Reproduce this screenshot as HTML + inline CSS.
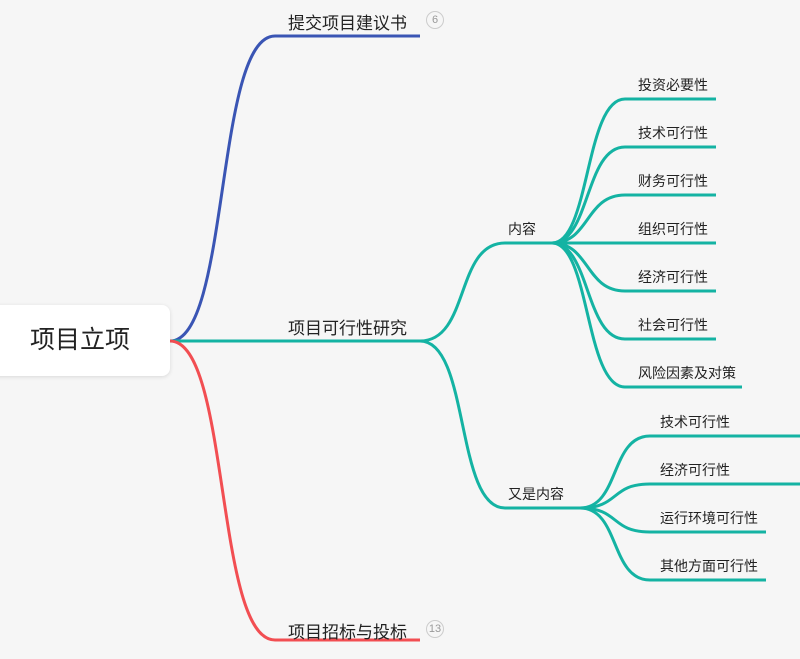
<!DOCTYPE html><html><head><meta charset="utf-8"><style>
body{margin:0;width:800px;height:659px;background:#f6f6f6;overflow:hidden;font-family:"Liberation Sans","Noto Sans CJK SC",sans-serif;position:relative}
.t{position:absolute;color:#222;white-space:nowrap}
.root{position:absolute;left:-10px;top:305px;width:180px;height:71px;background:#fff;border-radius:8px;box-shadow:0 1px 4px rgba(0,0,0,.12);font-size:25px;line-height:71px;text-align:center;padding-left:0;box-sizing:border-box;color:#222}
.b{font-size:17px}.s{font-size:14px}
.badge{position:absolute;width:16px;height:16px;border:1px solid #ccc;border-radius:50%;font-size:11px;color:#999;text-align:center;line-height:16px}
</style></head><body>
<svg width="800" height="659" style="position:absolute;left:0;top:0" fill="none" stroke-width="3">
<path d="M170 341 C230 341 215 36 275 36 L420 36" stroke="#3a55b4"/>
<path d="M170 341 L420 341" stroke="#14b3a3"/>
<path d="M170 341 C230 341 215 640 275 640 L420 640" stroke="#f24e52"/>
<g stroke="#14b3a3">
<path d="M420 341 C470 341 455 243 505 243 L552 243"/>
<path d="M420 341 C470 341 455 508 505 508 L580 508"/>
<path d="M552 243 C590 243 585 99 625 99 L716 99"/>
<path d="M552 243 C590 243 585 147 625 147 L716 147"/>
<path d="M552 243 C590 243 585 195 625 195 L716 195"/>
<path d="M552 243 L716 243"/>
<path d="M552 243 C590 243 585 291 625 291 L716 291"/>
<path d="M552 243 C590 243 585 339 625 339 L716 339"/>
<path d="M552 243 C590 243 585 387 625 387 L742 387"/>
<path d="M580 508 C620 508 610 436 650 436 L800 436"/>
<path d="M580 508 C620 508 610 484 650 484 L800 484"/>
<path d="M580 508 C620 508 610 532 650 532 L766 532"/>
<path d="M580 508 C620 508 610 580 650 580 L766 580"/>
</g></svg>
<div class="root">项目立项</div>
<div class="t b" style="left:288px;top:9px">提交项目建议书</div><div class="badge" style="left:426px;top:11px">6</div>
<div class="t b" style="left:288px;top:314px">项目可行性研究</div>
<div class="t b" style="left:288px;top:618px">项目招标与投标</div><div class="badge" style="left:426px;top:620px">13</div>
<div class="t s" style="left:508px;top:219px">内容</div>
<div class="t s" style="left:508px;top:484px">又是内容</div>
<div class="t s" style="left:638px;top:75px">投资必要性</div>
<div class="t s" style="left:638px;top:123px">技术可行性</div>
<div class="t s" style="left:638px;top:171px">财务可行性</div>
<div class="t s" style="left:638px;top:219px">组织可行性</div>
<div class="t s" style="left:638px;top:267px">经济可行性</div>
<div class="t s" style="left:638px;top:315px">社会可行性</div>
<div class="t s" style="left:638px;top:363px">风险因素及对策</div>
<div class="t s" style="left:660px;top:412px">技术可行性</div>
<div class="t s" style="left:660px;top:460px">经济可行性</div>
<div class="t s" style="left:660px;top:508px">运行环境可行性</div>
<div class="t s" style="left:660px;top:556px">其他方面可行性</div>
</body></html>
